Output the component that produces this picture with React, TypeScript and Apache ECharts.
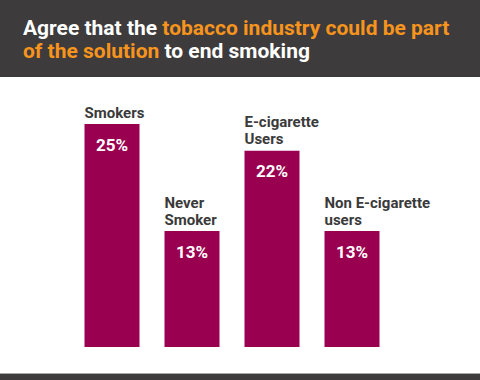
import React, { useEffect, useRef } from "react";
import * as echarts from "echarts";

const categories = ["Smokers", "Never\nSmoker", "E-cigarette\nUsers", "Non E-cigarette\nusers"];
const values = [25, 13, 22, 13];

export default function App() {
  const ref = useRef<HTMLDivElement>(null);
  useEffect(() => {
    const chart = echarts.init(ref.current!, null, { renderer: "svg" });
    const font = "Roboto";
    chart.setOption({
      animation: false,
      backgroundColor: "#ffffff",
      graphic: [
        { type: "rect", left: 0, top: 0, shape: { width: 480, height: 77 }, style: { fill: "#3d3b3c" }, z: 0 },
        { type: "rect", left: 0, top: 373, shape: { width: 480, height: 1 }, style: { fill: "#a8a8a8" }, z: 0 },
        { type: "rect", left: 0, top: 374, shape: { width: 480, height: 6 }, style: { fill: "#3d3b3c" }, z: 0 },
      ],
      title: {
        left: 18,
        top: 11,
        text: "{w|Agree that the }{o|tobacco industry could be part}\n{o|of the solution}{w| to end smoking}",
        textStyle: {
          rich: {
            w: { color: "#ffffff", fontSize: 21, fontWeight: "bold", fontFamily: font, lineHeight: 23 },
            o: { color: "#f7941d", fontSize: 21, fontWeight: "bold", fontFamily: font, lineHeight: 23 },
          },
        },
      },
      grid: { left: 72, right: 88, top: 79.4, bottom: 33, containLabel: false },
      xAxis: {
        type: "category",
        data: categories,
        show: false,
      },
      yAxis: { type: "value", min: 0, max: 30, show: false },
      series: [
        {
          type: "bar",
          data: values,
          barWidth: 55,
          itemStyle: { color: "#990050" },
          label: {
            show: true,
            position: "insideTop",
            distance: 12,
            formatter: "{c}%",
            color: "#ffffff",
            fontSize: 17,
            fontWeight: "bold",
            fontFamily: font,
          },
          z: 2,
        },
        {
          type: "bar",
          data: values,
          barWidth: 55,
          barGap: "-100%",
          itemStyle: { color: "rgba(0,0,0,0)" },
          label: {
            show: true,
            position: "top",
            distance: 3,
            align: "left",
            offset: [-27.5, 0],
            formatter: (p: any) => p.name,
            color: "#3a3a3a",
            fontSize: 15,
            lineHeight: 17,
            fontWeight: "bold",
            fontFamily: font,
          },
          z: 3,
        },
      ],
    });
    return () => chart.dispose();
  }, []);
  return <div ref={ref} style={{ width: 480, height: 380, position: "absolute", left: 0, top: 0 }} />;
}
